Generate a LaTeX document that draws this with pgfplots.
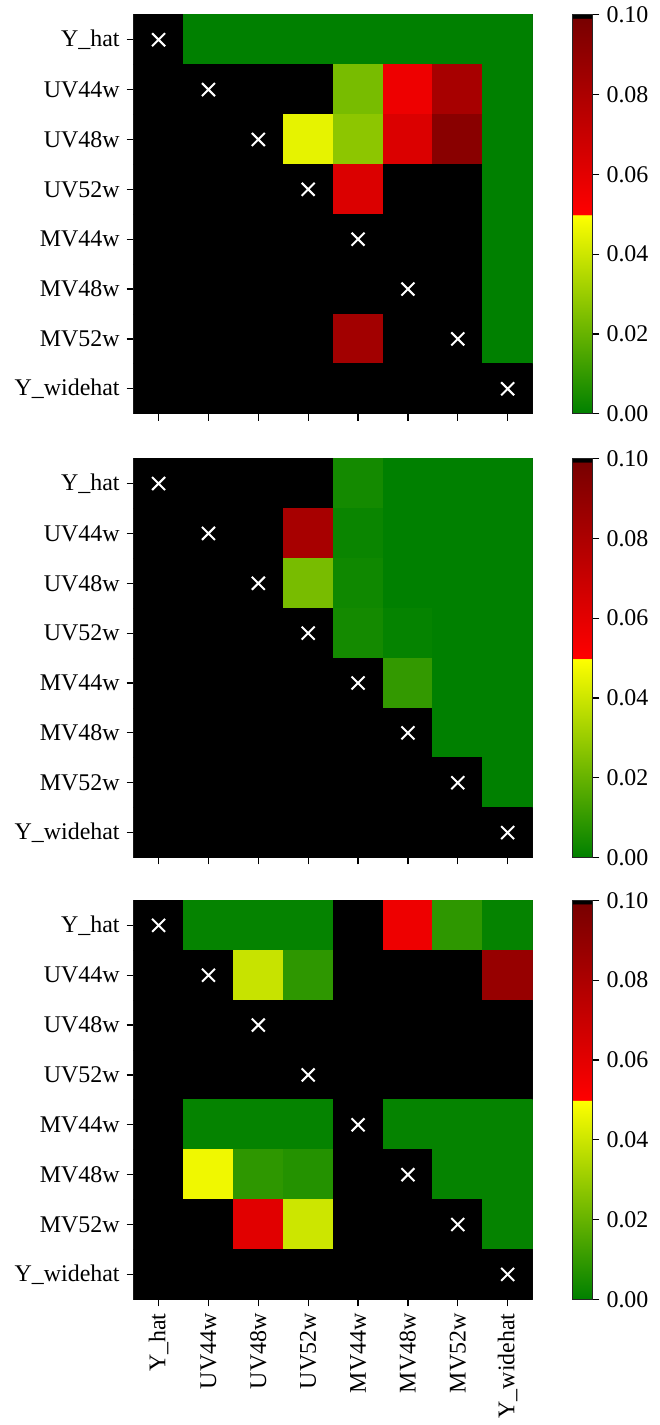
\documentclass[border=0pt]{standalone}
\usepackage{fontspec}
\setmainfont{Liberation Serif}
\usepackage{pgfplots}
\pgfplotsset{compat=1.18}

\pgfplotsset{
 colormap={gyr}{rgb255(0)=(0,128,0); rgb255(499)=(255,255,0); rgb255(500)=(255,0,0); rgb255(991)=(120,0,0); rgb255(992)=(0,0,0); rgb255(1000)=(0,0,0)},
 hm/.style={
  scale only axis, width=200pt, height=200pt,
  xmin=-0.5, xmax=7.5, ymin=-0.5, ymax=7.5, y dir=reverse,
  xtick={0,...,7}, ytick={0,...,7},
  yticklabels={Y\_hat,UV44w,UV48w,UV52w,MV44w,MV48w,MV52w,Y\_widehat},
  xticklabels={Y\_hat,UV44w,UV48w,UV52w,MV44w,MV48w,MV52w,Y\_widehat},
  tick align=outside, major tick length=3.5pt,
  tick style={black, line width=0.6pt},
  xtick pos=bottom, ytick pos=left,
  axis line style={line width=0.6pt, black!85},
  colormap name=gyr, point meta min=0, point meta max=0.1,
  font=\fontsize{12}{14}\selectfont,
  colorbar,
  colorbar style={
   width=10pt, at={(parent axis.north east)}, anchor=north west, xshift=11.5pt,
   ytick={0,0.02,0.04,0.06,0.08,0.1},
   yticklabels={0.00,0.02,0.04,0.06,0.08,0.10},
   ytick pos=right, tick align=outside, major tick length=3.5pt,
   tick style={black, line width=0.6pt},
   axis line style={line width=0.6pt, black!85},
   font=\fontsize{12}{14}\selectfont,
  },
 },
 xm/.style={only marks, mark=x, mark size=4.6pt, white, mark options={line width=1pt}},
}

\begin{document}
\begin{tikzpicture}
% ---------------- Panel 1 ----------------
\begin{axis}[hm, at={(0,0)}, anchor=north west, xticklabels={}]
\addplot[matrix plot*, mesh/cols=8, point meta=explicit] table[meta=c]{
x y c
0 0 0.1
1 0 0
2 0 0
3 0 0
4 0 0
5 0 0
6 0 0
7 0 0
0 1 0.1
1 1 0.1
2 1 0.1
3 1 0.1
4 1 0.0235
5 1 0.056
6 1 0.082
7 1 0
0 2 0.1
1 2 0.1
2 2 0.1
3 2 0.045
4 2 0.0275
5 2 0.063
6 2 0.093
7 2 0
0 3 0.1
1 3 0.1
2 3 0.1
3 3 0.1
4 3 0.063
5 3 0.1
6 3 0.1
7 3 0
0 4 0.1
1 4 0.1
2 4 0.1
3 4 0.1
4 4 0.1
5 4 0.1
6 4 0.1
7 4 0
0 5 0.1
1 5 0.1
2 5 0.1
3 5 0.1
4 5 0.1
5 5 0.1
6 5 0.1
7 5 0
0 6 0.1
1 6 0.1
2 6 0.1
3 6 0.1
4 6 0.084
5 6 0.1
6 6 0.1
7 6 0
0 7 0.1
1 7 0.1
2 7 0.1
3 7 0.1
4 7 0.1
5 7 0.1
6 7 0.1
7 7 0.1
};
\addplot[xm] coordinates {(0,0) (1,1) (2,2) (3,3) (4,4) (5,5) (6,6) (7,7)};
\end{axis}
% ---------------- Panel 2 ----------------
\begin{axis}[hm, at={(0,-222.5pt)}, anchor=north west, xticklabels={}]
\addplot[matrix plot*, mesh/cols=8, point meta=explicit] table[meta=c]{
x y c
0 0 0.1
1 0 0.1
2 0 0.1
3 0 0.1
4 0 0.004
5 0 0
6 0 0
7 0 0
0 1 0.1
1 1 0.1
2 1 0.1
3 1 0.082
4 1 0.002
5 1 0
6 1 0
7 1 0
0 2 0.1
1 2 0.1
2 2 0.1
3 2 0.0235
4 2 0.003
5 2 0
6 2 0
7 2 0
0 3 0.1
1 3 0.1
2 3 0.1
3 3 0.1
4 3 0.004
5 3 0.001
6 3 0
7 3 0
0 4 0.1
1 4 0.1
2 4 0.1
3 4 0.1
4 4 0.1
5 4 0.01
6 4 0
7 4 0
0 5 0.1
1 5 0.1
2 5 0.1
3 5 0.1
4 5 0.1
5 5 0.1
6 5 0
7 5 0
0 6 0.1
1 6 0.1
2 6 0.1
3 6 0.1
4 6 0.1
5 6 0.1
6 6 0.1
7 6 0
0 7 0.1
1 7 0.1
2 7 0.1
3 7 0.1
4 7 0.1
5 7 0.1
6 7 0.1
7 7 0.1
};
\addplot[xm] coordinates {(0,0) (1,1) (2,2) (3,3) (4,4) (5,5) (6,6) (7,7)};
\end{axis}
% ---------------- Panel 3 ----------------
\begin{axis}[hm, at={(0,-444pt)}, anchor=north west,
  xticklabel style={rotate=90, anchor=east}]
\addplot[matrix plot*, mesh/cols=8, point meta=explicit] table[meta=c]{
x y c
0 0 0.1
1 0 0.001
2 0 0.001
3 0 0.001
4 0 0.1
5 0 0.056
6 0 0.009
7 0 0.001
0 1 0.1
1 1 0.1
2 1 0.039
3 1 0.009
4 1 0.1
5 1 0.1
6 1 0.1
7 1 0.088
0 2 0.1
1 2 0.1
2 2 0.1
3 2 0.1
4 2 0.1
5 2 0.1
6 2 0.1
7 2 0.1
0 3 0.1
1 3 0.1
2 3 0.1
3 3 0.1
4 3 0.1
5 3 0.1
6 3 0.1
7 3 0.1
0 4 0.1
1 4 0.001
2 4 0.001
3 4 0.001
4 4 0.1
5 4 0.001
6 4 0.001
7 4 0.001
0 5 0.1
1 5 0.047
2 5 0.009
3 5 0.007
4 5 0.1
5 5 0.1
6 5 0.001
7 5 0.001
0 6 0.1
1 6 0.1
2 6 0.061
3 6 0.040
4 6 0.1
5 6 0.1
6 6 0.1
7 6 0.001
0 7 0.1
1 7 0.1
2 7 0.1
3 7 0.1
4 7 0.1
5 7 0.1
6 7 0.1
7 7 0.1
};
\addplot[xm] coordinates {(0,0) (1,1) (2,2) (3,3) (4,4) (5,5) (6,6) (7,7)};
\end{axis}
\path ([xshift=-4pt]current bounding box.west) ([xshift=2pt]current bounding box.east);
\end{tikzpicture}
\end{document}
